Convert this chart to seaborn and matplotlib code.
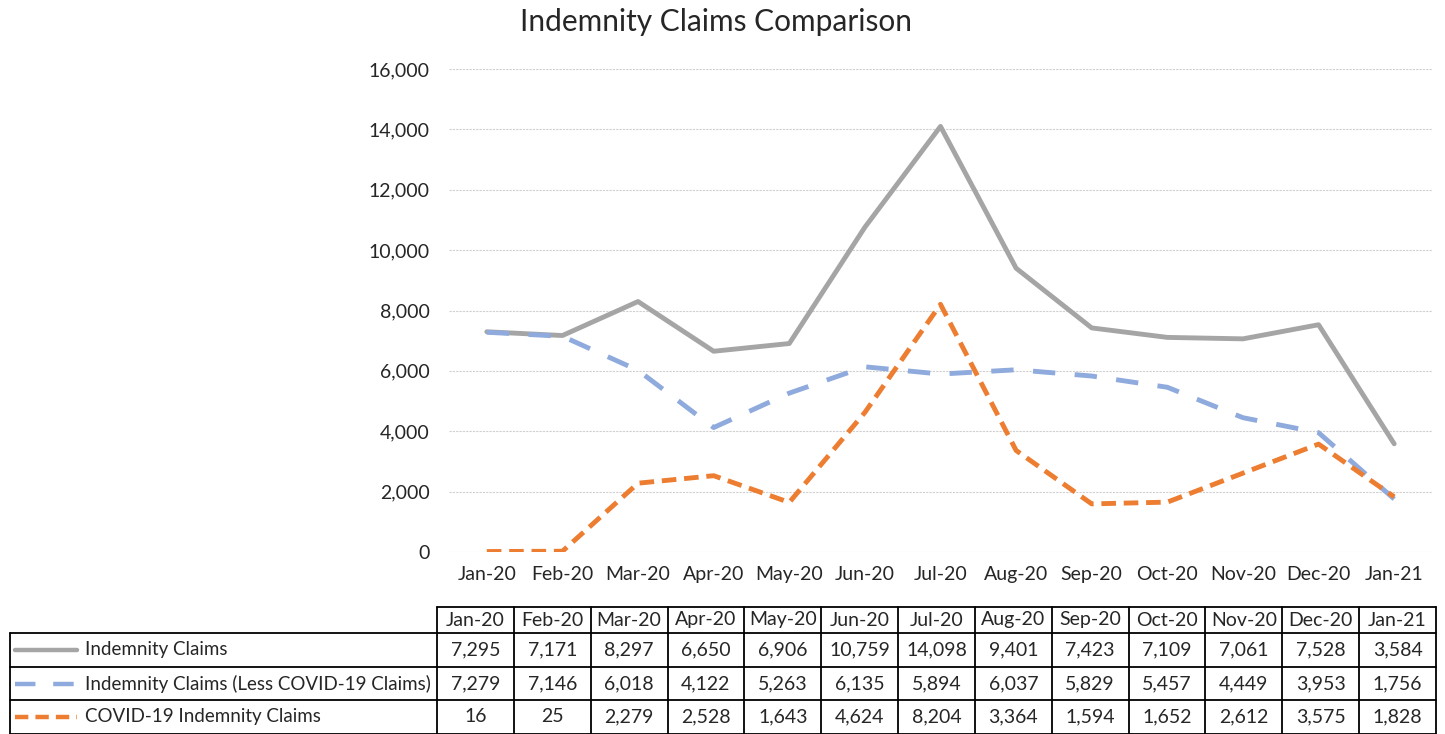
# Indemnity claims comparison - line chart with a data table under it

import pandas as pd
import numpy as np
import matplotlib.pyplot as plt
import seaborn as sns

# chart data
months = ['Jan-20', 'Feb-20', 'Mar-20', 'Apr-20', 'May-20', 'Jun-20', 'Jul-20',
          'Aug-20', 'Sep-20', 'Oct-20', 'Nov-20', 'Dec-20', 'Jan-21']
indemnity = [7295, 7171, 8297, 6650, 6906, 10759, 14098, 9401, 7423, 7109, 7061, 7528, 3584]
less_covid = [7279, 7146, 6018, 4122, 5263, 6135, 5894, 6037, 5829, 5457, 4449, 3953, 1756]
covid = [16, 25, 2279, 2528, 1643, 4624, 8204, 3364, 1594, 1652, 2612, 3575, 1828]

names = ['Indemnity Claims', 'Indemnity Claims (Less COVID-19 Claims)', 'COVID-19 Indemnity Claims']
series = [indemnity, less_covid, covid]
colors = ['#A5A5A5', '#8FAADC', '#ED7D31']
dashes = [None, (4.6, 4.0), (3.0, 1.6)]

sns.set_style('white')
plt.rcParams['font.family'] = ['Lato', 'DejaVu Sans']
text_col = '#262626'
fs = 14

W, H = 1445, 734
fig = plt.figure(figsize=(W / 100, H / 100), dpi=100)

# main plot area (positions in pixels of the picture)
ax = fig.add_axes([449 / W, 1 - 552 / H, (1432 - 449) / W, (552 - 69) / H])
for name, vals, col, dsh in zip(names, series, colors, dashes):
    df = pd.DataFrame({'x': np.arange(len(months)), 'y': vals})
    sns.lineplot(data=df, x='x', y='y', ax=ax, color=col, linewidth=3.5, sort=False)
    if dsh is not None:
        ax.lines[-1].set_dashes(dsh)

ax.set_xlim(-0.5, len(months) - 0.5)
ax.set_ylim(0, 16000)
ax.set_yticks(range(0, 16001, 2000))
ax.set_yticklabels([f'{v:,}' for v in range(0, 16001, 2000)], fontsize=fs, color=text_col)
ax.set_xticks(range(len(months)))
ax.set_xticklabels(months, fontsize=fs, color=text_col)
ax.tick_params(axis='y', pad=14, length=0)
ax.tick_params(axis='x', pad=10, length=0)
ax.grid(axis='y', color='#D0D0D0', linewidth=0.8, linestyle=(0, (2, 1)))
ax.set_axisbelow(True)
ax.set_xlabel('')
ax.set_ylabel('')
for s in ax.spines.values():
    s.set_visible(False)

fig.text(716 / W, 1 - 22 / H, 'Indemnity Claims Comparison', ha='center', va='center',
         fontsize=21.5, color=text_col)

# data table drawn on a full-figure overlay, in pixel coordinates
tab = fig.add_axes([0, 0, 1, 1], zorder=-1)
tab.set_xlim(0, W)
tab.set_ylim(H, 0)
tab.axis('off')

x_left, x_split, x_right = 10, 437, 1436
col_w = (x_right - x_split) / len(months)
y_head, rows = 607, [633, 667, 700, 733.5]
lw = 1.3

# horizontal lines
tab.plot([x_split, x_right], [y_head, y_head], color='black', lw=lw)
for y in rows:
    tab.plot([x_left, x_right], [y, y], color='black', lw=lw)
# vertical lines
tab.plot([x_left, x_left], [rows[0], rows[-1]], color='black', lw=lw)
for i in range(len(months) + 1):
    x = x_split + i * col_w
    tab.plot([x, x], [y_head, rows[-1]], color='black', lw=lw)

# header
for i, m in enumerate(months):
    tab.text(x_split + (i + 0.5) * col_w, (y_head + rows[0]) / 2, m, ha='center', va='center',
             fontsize=fs, color=text_col)

# rows with legend keys
for r, (name, vals, col, dsh) in enumerate(zip(names, series, colors, dashes)):
    yc = (rows[r] + rows[r + 1]) / 2
    key = tab.plot([15, 77], [yc, yc], color=col, lw=3.2)[0]
    if dsh is not None:
        key.set_dashes(dsh)
    tab.text(85, yc, name, ha='left', va='center', fontsize=13.5, color=text_col)
    for i, v in enumerate(vals):
        tab.text(x_split + (i + 0.5) * col_w, yc, f'{v:,}', ha='center', va='center',
                 fontsize=fs, color=text_col)

plt.savefig('out.png', dpi=100)
